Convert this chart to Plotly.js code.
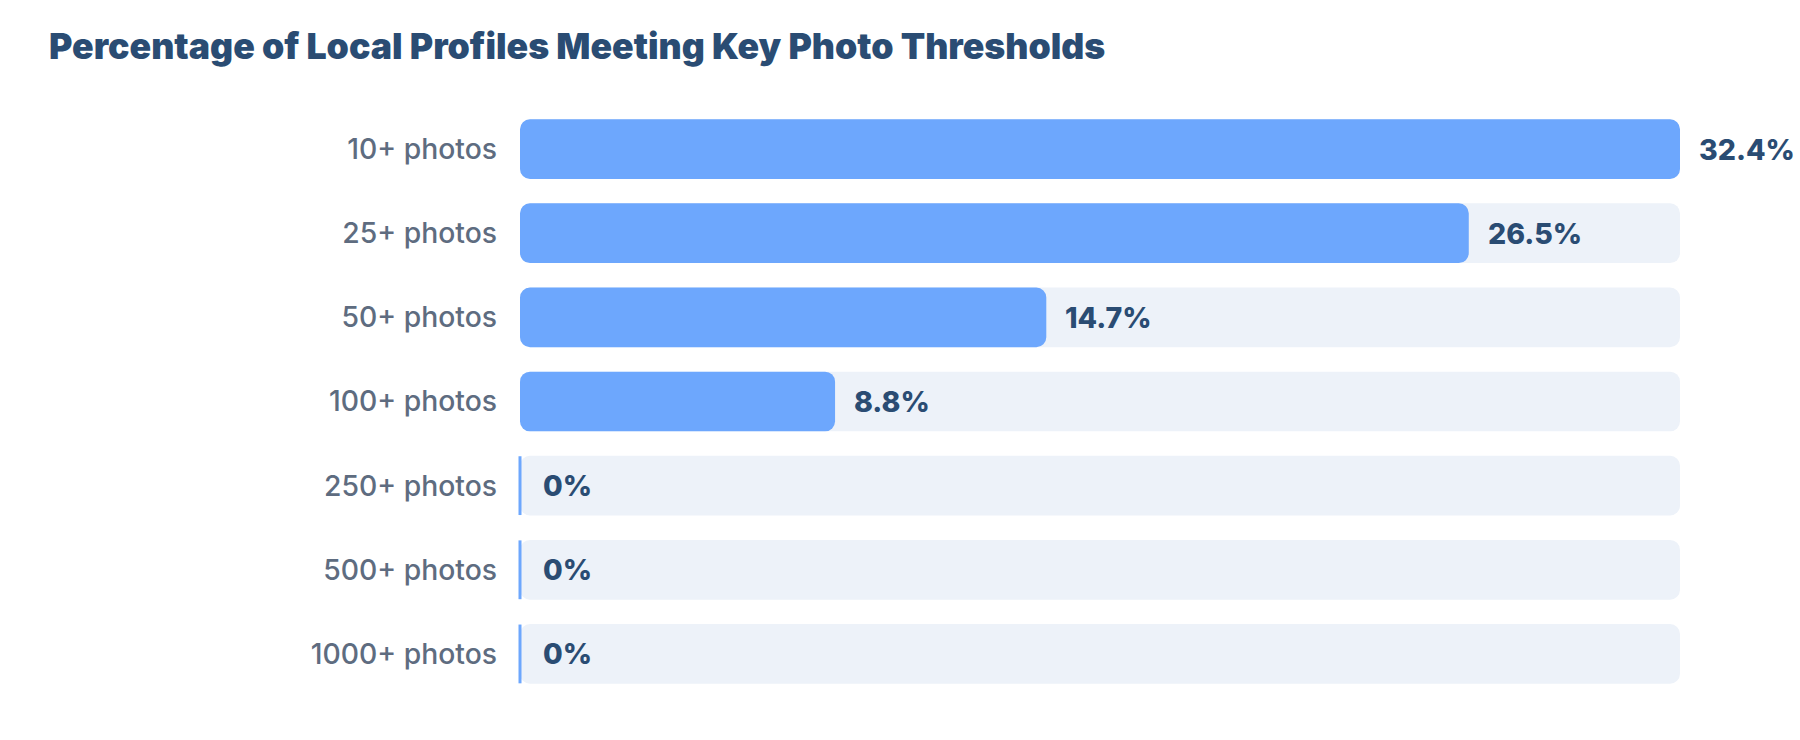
<!DOCTYPE html>
<html>
<head>
<meta charset="utf-8">
<script src="https://cdn.plot.ly/plotly-3.0.1.min.js"></script>
<style>
  html, body { margin: 0; padding: 0; background: #ffffff; }
  #chart { width: 1800px; height: 740px; }
</style>
</head>
<body>
<div id="chart"></div>
<script>
// Photo thresholds chart

const thresholds = ["10+ photos", "25+ photos", "50+ photos", "100+ photos", "250+ photos", "500+ photos", "1000+ photos"];
const shares = [32.4, 26.5, 14.7, 8.8, 0, 0, 0];
const shareLabels = ["32.4%", "26.5%", "14.7%", "8.8%", "0%", "0%", "0%"];

const C = {
  bar: "#6da7fd",
  track: "#edf2f9",
  ink: "#2a4c73",
  muted: "#5e6c80",
};

const trackMax = Math.max(...shares);
const zeroRows = thresholds.filter((_, i) => shares[i] === 0);

// an explicit base makes plotly round both ends of the bar
const traces = [
  {
    type: "bar",
    orientation: "h",
    y: thresholds,
    x: thresholds.map(() => trackMax),
    base: 0,
    width: 0.71,
    marker: { color: C.track, cornerradius: 10 },
    hoverinfo: "skip",
    showlegend: false,
  },
  {
    type: "bar",
    orientation: "h",
    y: thresholds,
    x: shares,
    base: 0,
    width: 0.71,
    marker: { color: C.bar, cornerradius: 10 },
    hovertemplate: "%{y}: %{x}%<extra></extra>",
    showlegend: false,
  },
  // thin edge for empty rows
  {
    type: "scatter",
    mode: "markers",
    y: zeroRows,
    x: zeroRows.map(() => 0),
    marker: { symbol: "line-ns", size: 42, line: { color: C.bar, width: 3 } },
    hoverinfo: "skip",
    showlegend: false,
    cliponaxis: false,
  },
];

const annotations = thresholds.map((t, i) => ({
  x: shares[i],
  y: t,
  xref: "x",
  yref: "y",
  text: shareLabels[i],
  showarrow: false,
  xanchor: "left",
  yanchor: "middle",
  xshift: shares[i] === 0 ? 21 : 17,
  font: { family: "Inter, sans-serif", size: 28.5, color: C.ink, weight: 800 },
}));

const layout = {
  width: 1800,
  height: 740,
  paper_bgcolor: "#ffffff",
  plot_bgcolor: "#ffffff",
  margin: { l: 520, r: 120, t: 107, b: 44 },
  barmode: "overlay",
  title: {
    text: "Percentage of Local Profiles Meeting Key Photo Thresholds",
    xref: "container",
    yref: "container",
    x: 49 / 1800,
    xanchor: "left",
    y: 1 - 47 / 740,
    yanchor: "middle",
    font: { family: "Inter, sans-serif", size: 35.7, color: C.ink, weight: 900 },
  },
  xaxis: {
    range: [0, trackMax],
    showgrid: false,
    zeroline: false,
    showline: false,
    showticklabels: false,
    automargin: false,
    fixedrange: true,
  },
  yaxis: {
    type: "category",
    range: [thresholds.length - 0.5, -0.5],
    showgrid: false,
    zeroline: false,
    showline: false,
    ticks: "",
    ticklabelstandoff: 22,
    automargin: false,
    tickfont: { family: "Inter, sans-serif", size: 28.3, color: C.muted, weight: 500 },
    fixedrange: true,
  },
  annotations,
  showlegend: false,
};

Plotly.newPlot("chart", traces, layout, { displayModeBar: false, responsive: false });
</script>
</body>
</html>
